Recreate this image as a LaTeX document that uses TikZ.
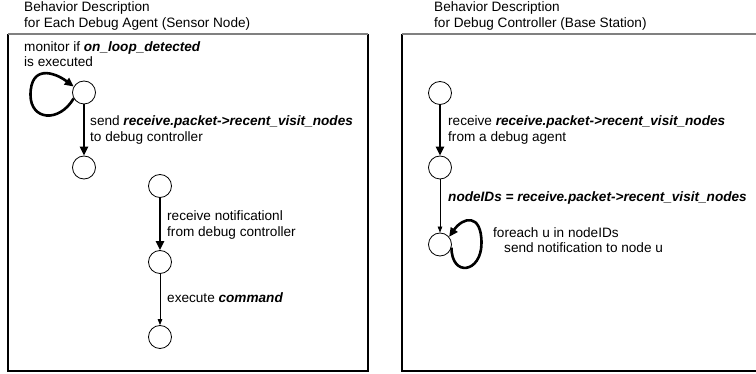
\documentclass[tikz,border=0pt]{standalone}
\usepackage{fontspec}
\setmainfont{Liberation Sans}
\usetikzlibrary{arrows.meta}
\begin{document}
\begin{tikzpicture}[x=1pt,y=-1pt,
  txt/.style={anchor=base west,inner sep=0pt,font=\fontsize{13.6}{16}\selectfont},
  state/.style={circle,draw,line width=0.8pt,minimum size=23pt,inner sep=0pt},
  heavy/.style={line width=2.6pt,-{Triangle[length=9pt,width=8pt]}},
  light/.style={line width=0.8pt,-{Triangle[length=6pt,width=4.5pt]}},
  frame/.style={line width=1.5pt,black},
  frametop/.style={line width=1.5pt,black!50}]
\useasboundingbox (0,0) rectangle (756,374);
% frames
\coordinate (L1) at (8,34); \coordinate (L2) at (368,34);
\coordinate (L3) at (368,371); \coordinate (L4) at (8,371);
\coordinate (R1) at (402,34); \coordinate (R2) at (758,34);
\coordinate (R3) at (758,371); \coordinate (R4) at (402,371);
\draw[frame] (L2) -- (L3) -- (L4) -- (L1);
\draw[frametop] (L1) -- (L2);
\draw[frame] (R1) -- (R4) -- (R3);
\draw[frametop] (R1) -- (R2);
% titles
\node[txt] (tl1) at (24,12) {Behavior Description};
\node[txt] (tl2) at (24,28) {for Each Debug Agent (Sensor Node)};
\node[txt] (tr1) at (434,12) {Behavior Description};
\node[txt] (tr2) at (434,28) {for Debug Controller (Base Station)};
% left states
\node[state] (c1) at (84,92.5) {};
\node[state] (c2) at (84,167.5) {};
\node[state] (c3) at (160,186) {};
\node[state] (c4) at (160,262) {};
\node[state] (c5) at (160,337) {};
\coordinate (cl) at (30.5,95);
\draw[heavy] (c1.210) .. controls +(-15,25) and +(0,25) .. (cl)
                      .. controls +(0,-30) and +(-20,-15) .. (c1.150);
\draw[heavy] (c1) -- (c2);
\draw[heavy] (c3) -- (c4);
\draw[light] (c4) -- (c5);
\node[txt] (m1) at (24,51.5) {monitor if \textbf{\textit{on\_loop\_detected}}};
\node[txt] (m2) at (24,67) {is executed};
\node[txt] (s1) at (90,126) {send \textbf{\textit{receive.packet->recent\_visit\_nodes}}};
\node[txt] (s2) at (90,141.5) {to debug controller};
\node[txt] (n1) at (167,221) {receive notificationl};
\node[txt] (n2) at (167,236.5) {from debug controller};
\node[txt] (e1) at (167,302.5) {execute \textbf{\textit{command}}};
% right states
\node[state] (a) at (440,93) {};
\node[state] (b) at (440,167.5) {};
\node[state] (c) at (440,244.5) {};
\coordinate (cr) at (481.5,243);
\draw[heavy] (a) -- (b);
\draw[light] (b) -- (c);
\draw[heavy] (c.-15) .. controls +(0,30) and +(0,30) .. (cr)
                     .. controls +(0,-30) and +(14,-20) .. (c.40);
\node[txt] (r1) at (448,126) {receive \textbf{\textit{receive.packet->recent\_visit\_nodes}}};
\node[txt] (r2) at (448,141.5) {from a debug agent};
\node[txt] (ids) at (448,201.5) {\textbf{\textit{nodeIDs = receive.packet->recent\_visit\_nodes}}};
\node[txt] (f1) at (493,238) {foreach u in nodeIDs};
\node[txt] (f2) at (504,253) {send notification to node u};
\end{tikzpicture}
\end{document}
